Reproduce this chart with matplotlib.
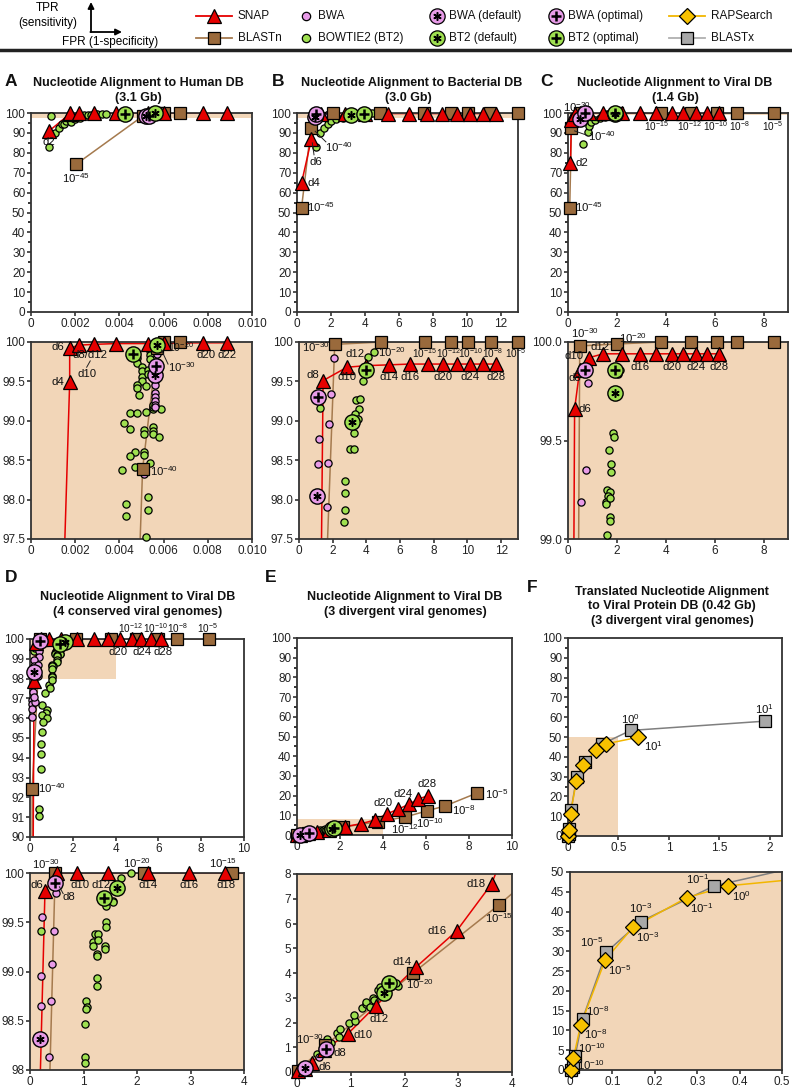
import numpy as np
import matplotlib.pyplot as plt
from matplotlib.lines import Line2D

plt.rcParams['font.family'] = ['Liberation Sans', 'DejaVu Sans']
plt.rcParams['mathtext.default'] = 'regular'

W, H = 792, 1088
RED = '#e60000'
BROWN = '#9a6a3c'
BROWN_LINE = '#a57a4e'
PINK = '#e89be8'
GREEN = '#9fe050'
GOLD = '#f8c200'
GOLD_LINE = '#f2b600'
GRAY = '#a8a8a8'
GRAY_LINE = '#7f7f7f'
TAN = '#f2d6b8'

# ---------------- data ----------------
# Panel A: human DB
A_SNAP_X = [0.0008, 0.00175, 0.00175, 0.00215, 0.00285, 0.00385, 0.0053, 0.0060, 0.0078, 0.00886]
A_SNAP_Y = [90.8, 99.49, 99.92, 99.96, 99.97, 99.98, 99.98, 99.985, 99.99, 99.99]
A_BLASTN_X = [0.00205, 0.00505, 0.0057, 0.0060, 0.00676]
A_BLASTN_Y = [74.3, 98.39, 99.93, 100.0, 100.0]
A_TOP_BT2_X = [0.00083, 0.0009, 0.0011, 0.00126, 0.0014, 0.0015, 0.0016, 0.00177, 0.0018, 0.0019,
               0.0020, 0.0021, 0.0022, 0.0023, 0.0024, 0.0026, 0.0027, 0.0029, 0.0030, 0.0032, 0.0034]
A_TOP_BT2_Y = [82.9, 98.7, 90.0, 92.4, 94.5, 94.3, 95.8, 96.6, 95.5, 97.5,
               96.8, 98.0, 97.3, 98.3, 98.8, 99.0, 99.2, 99.3, 99.4, 99.5, 99.6]
A_TOP_BT2_OPT = ([0.00424], [99.6])
A_TOP_BT2_DEF = ([0.0056], [100.0])
A_TOP_BWA_OPT = ([0.00533], [98.7])
A_TOP_BWA_DEF = ([0.0052], [98.3])
A_BOT_BT2_X = [0.0054, 0.0054, 0.0054, 0.0054, 0.0048, 0.0048, 0.0050, 0.0050, 0.0050, 0.0050,
               0.0048, 0.0048, 0.0053, 0.0053, 0.0052, 0.0049, 0.0055, 0.0055, 0.0055, 0.0059,
               0.0045, 0.0048, 0.0052, 0.0042, 0.0045, 0.0055, 0.0055, 0.0051, 0.0051, 0.0055,
               0.0058, 0.0047, 0.0051, 0.0051, 0.0045, 0.0054, 0.0047, 0.0041, 0.0053, 0.0043,
               0.0053, 0.0043, 0.0052]
A_BOT_BT2_Y = [99.92, 99.88, 99.83, 99.79, 99.8, 99.73, 99.68, 99.63, 99.55, 99.5,
               99.45, 99.41, 99.64, 99.6, 99.44, 99.33, 99.15, 99.18, 99.2, 99.15,
               99.1, 99.1, 99.11, 98.97, 98.9, 98.92, 98.87, 98.88, 98.83, 98.83,
               98.8, 98.61, 98.61, 98.57, 98.55, 98.47, 98.41, 98.37, 98.03, 97.95,
               97.87, 97.79, 97.52]
A_BOT_BWA_X = [0.0058, 0.0057, 0.0057, 0.0056, 0.0056, 0.0056, 0.0056, 0.0056, 0.0056, 0.0056, 0.0051]
A_BOT_BWA_Y = [99.93, 99.85, 99.75, 99.5, 99.45, 99.35, 99.3, 99.25, 99.2, 99.17, 98.33]
A_BOT_BWA_OPT = ([0.00565], [99.7])
A_BOT_BWA_DEF = ([0.0056], [99.58])
A_BOT_BT2_OPT = ([0.0046], [99.85])
A_BOT_BT2_DEF = ([0.0057], [99.96])

# Panel B: bacterial DB
B_SNAP_X = [0.27, 0.85, 1.43, 2.85, 4.0, 5.33, 6.57, 7.66, 8.55, 9.39, 10.18, 10.93, 11.68]
B_SNAP_Y = [65.0, 87.0, 99.51, 99.68, 99.7, 99.71, 99.72, 99.72, 99.72, 99.72, 99.72, 99.72, 99.72]
B_BLASTN_X = [0.27, 0.82, 2.12, 4.89, 7.47, 9.05, 10.04, 11.37, 13.0]
B_BLASTN_Y = [52.5, 92.4, 99.97, 100, 100, 100, 100, 100, 100]
B_BWA_X = [0.75, 2.06, 1.88, 1.76, 1.19, 1.13, 1.74, 1.64]
B_BWA_Y = [92.0, 99.8, 99.34, 98.96, 98.77, 98.45, 98.47, 97.9]
B_BWA_OPT = ([1.13], [99.3])
B_BWA_DEF = ([1.08], [98.05])
B_BT2_X = [1.1, 1.35, 1.6, 1.8, 2.0, 2.3, 4.43, 4.1, 3.8, 3.4, 3.6, 3.54, 3.35, 3.5, 3.26,
           3.0, 3.26, 2.75, 2.75, 2.75, 2.69, 1.23]
B_BT2_Y = [83.0, 90.0, 92.5, 94.5, 96.0, 97.0, 99.87, 99.81, 99.51, 99.27, 99.28, 99.15, 99.08, 99.02, 98.84,
           98.64, 98.64, 98.24, 98.08, 97.87, 97.71, 99.16]
B_BT2_OPT = ([3.96], [99.65])
B_BT2_DEF = ([3.17], [98.98])

# Panel C: viral DB
C_SNAP_X = [0.1, 0.14, 0.27, 0.48, 0.85, 1.44, 2.19, 2.94, 3.58, 4.24, 4.72, 5.23, 5.68, 6.16]
C_SNAP_Y = [75.1, 96.6, 99.66, 99.86, 99.92, 99.94, 99.94, 99.94, 99.94, 99.94, 99.94, 99.94, 99.94, 99.94]
C_BLASTN_X = [0.07, 0.14, 0.48, 2.01, 3.79, 5.02, 6.09, 6.9, 8.41]
C_BLASTN_Y = [52.2, 92.4, 99.98, 99.99, 100, 100, 100, 100, 100]
C_BWA_X = [0.82, 0.75, 0.52, 0.35]
C_BWA_Y = [99.79, 99.35, 99.19, 97.0]
C_BWA_OPT = ([0.71], [99.86])
C_BWA_DEF = ([0.48], [97.0])
C_BT2_X = [0.62, 0.8, 0.85, 0.95, 1.1, 1.3, 1.5, 1.7, 2.12, 2.05, 1.85, 1.87, 1.68, 1.74, 1.74,
           1.6, 1.71, 1.64, 1.57, 1.55, 1.71, 1.71, 1.71, 1.6]
C_BT2_Y = [84.2, 90.5, 93.5, 95.5, 96.5, 97.3, 98.0, 98.5, 99.86, 99.84, 99.54, 99.52, 99.45, 99.38, 99.34,
           99.25, 99.24, 99.22, 99.19, 99.18, 99.21, 99.11, 99.09, 99.02]
C_BT2_OPT = ([1.92], [99.86])
C_BT2_DEF = ([1.92], [99.74])

# Panel D: 4 conserved viral genomes
D_SNAP_X = [0.1, 0.19, 0.28, 0.51, 0.88, 1.45, 2.2, 2.97, 3.65, 4.2, 4.75, 5.2, 5.65, 6.1]
D_SNAP_Y = [80.0, 97.9, 99.82, 100, 100, 100, 100, 100, 100, 100, 100, 100, 100, 100]
D_BLASTN_X = [0.08, 0.1, 0.47, 2.13, 3.78, 4.95, 6.0, 6.85, 8.35]
D_BLASTN_Y = [75.0, 92.4, 100, 100, 100, 100, 100, 100, 100]
D_BWA_X = [0.49, 0.22, 0.44, 0.42, 0.21, 0.21, 0.39, 0.36,
           0.16, 0.12, 0.11, 0.11, 0.11, 0.11, 0.23, 0.2]
D_BWA_Y = [99.8, 99.55, 99.41, 99.08, 98.95, 98.65, 98.7, 98.13,
           97.7, 97.3, 96.9, 96.7, 96.46, 96.04, 96.8, 97.05]
D_BWA_OPT = ([0.47], [99.9])
D_BWA_DEF = ([0.19], [98.31])
D_BT2_X = [0.2, 1.88, 1.71, 1.56, 1.55, 1.42, 1.42, 1.42, 1.21, 1.28, 1.18, 1.28, 1.18, 1.4, 1.4,
           1.26, 1.26, 1.26, 1.26, 1.04, 1.06, 1.05, 1.03, 1.02, 1.02,
           0.7, 0.58, 0.78, 0.75, 0.58, 0.78, 0.62, 0.58, 0.51, 0.51, 0.51, 0.42, 0.42, 0.9, 1.01, 0.93]
D_BT2_Y = [99.41, 100.0, 99.95, 99.72, 99.71, 99.66, 99.5, 99.45, 99.38, 99.38, 99.3, 99.32, 99.26, 99.26, 99.23,
           99.18, 99.16, 98.93, 98.85, 98.7, 98.64, 98.62, 98.47, 98.13, 98.07,
           97.25, 96.66, 96.4, 96.24, 96.15, 95.99, 95.82, 95.31, 94.72, 94.2, 93.41, 91.43, 91.05, 97.67, 97.93, 97.55]
D_BT2_OPT = ([1.39], [99.75])
D_BT2_DEF = ([1.62], [99.85])

# Panel E: 3 divergent viral genomes
E_SNAP_X = [0.02, 0.15, 0.28, 0.5, 0.94, 1.47, 2.21, 2.97, 3.62, 4.2, 4.71, 5.2, 5.64, 6.07]
E_SNAP_Y = [0.03, 0.12, 0.38, 0.9, 1.53, 2.68, 4.23, 5.7, 7.6, 10.8, 13.1, 15.6, 18.2, 19.9]
E_BLASTN_X = [0.01, 0.53, 2.16, 3.76, 5.02, 6.06, 6.9, 8.35]
E_BLASTN_Y = [0.04, 1.08, 4.0, 6.76, 9.1, 12.3, 14.8, 21.2]
E_BWA_X = [0.4, 0.1]
E_BWA_Y = [0.6, 0.12]
E_BWA_OPT = ([0.54], [0.92])
E_BWA_DEF = ([0.14], [0.16])
E_BT2_X = [0.37, 0.56, 0.64, 0.74, 0.8, 0.78, 0.96, 1.07, 1.06, 1.2, 1.28, 1.28, 1.36, 1.42, 1.44,
           1.51, 1.54, 1.77, 1.88, 1.85]
E_BT2_Y = [0.74, 1.32, 1.18, 1.59, 1.75, 1.42, 2.0, 2.07, 2.32, 2.57, 2.73, 2.84, 2.64, 3.0, 2.9,
           3.31, 3.45, 3.47, 3.47, 3.58]
E_BT2_OPT = ([1.72], [3.58])
E_BT2_DEF = ([1.62], [3.18])

# Panel F: translated alignment
F_BLASTX_X = [0.002, 0.006, 0.012, 0.03, 0.086, 0.167, 0.34, 0.62, 1.95]
F_BLASTX_Y = [0.0, 0.8, 3.5, 13.0, 29.8, 37.5, 46.5, 53.3, 58.0]
F_RAP_X = [0.002, 0.008, 0.025, 0.083, 0.148, 0.275, 0.372, 0.69]
F_RAP_Y = [0.0, 3.0, 11.3, 27.8, 36.0, 43.5, 46.5, 49.8]

# zoomed (bottom) panel limits, also the shaded area in the top panels
ZOOM = {
    'A': ((0, 0.010), (97.5, 100)),
    'B': ((0, 13), (97.5, 100)),
    'C': ((0, 9), (99.0, 100.0)),
    'D': ((0, 4), (98, 100)),
    'E': ((0, 4), (0, 8)),
    'F': ((0, 0.5), (0, 50)),
}

fig = plt.figure(figsize=(W / 100, H / 100), dpi=100)


def make_ax(l, t, r, b):
    return fig.add_axes([l / W, 1 - b / H, (r - l) / W, (b - t) / H])


def setup(ax, xlim, ylim, xt, xl, yt, yl, yminor=None, bg=None):
    ax.set_xlim(xlim)
    ax.set_ylim(ylim)
    ax.set_xticks(xt)
    ax.set_xticklabels(xl)
    ax.set_yticks(yt)
    ax.set_yticklabels(yl)
    if yminor is not None:
        ax.set_yticks(yminor, minor=True)
    ax.tick_params(direction='out', length=3, width=1.1, labelsize=8.5, pad=1.2, colors='#222')
    ax.tick_params(which='minor', length=2, width=1.1)
    for s in ax.spines.values():
        s.set_linewidth(1.3)
        s.set_color('#333')
    if bg:
        ax.set_facecolor(bg)


def pts(ax, x, y, marker, ms, fc, z, line=None, lw=1.1, mew=0.9):
    x = np.asarray(x, float)
    y = np.asarray(y, float)
    if line:
        ax.plot(x, y, color=line, lw=lw, zorder=2, solid_capstyle='butt')
    x0, x1 = ax.get_xlim()
    y0, y1 = ax.get_ylim()
    tx, ty = (x1 - x0) * 0.004, (y1 - y0) * 0.004
    m = (x >= x0 - tx) & (x <= x1 + tx) & (y >= y0 - ty) & (y <= y1 + ty)
    ax.plot(x[m], y[m], ls='none', marker=marker, ms=ms, mfc=fc, mec='k', mew=mew,
            zorder=z, clip_on=False)
    return m


def big(ax, xy, fc, sym):
    m = pts(ax, xy[0], xy[1], 'o', 11, fc, 7, mew=1.0)
    x = np.asarray(xy[0])[m]
    y = np.asarray(xy[1])[m]
    if sym == '+':
        ax.plot(x, y, ls='none', marker='+', ms=7, mew=1.8, color='k', zorder=8, clip_on=False)
    else:
        ax.plot(x, y, ls='none', marker=(6, 2, 0), ms=6, mew=1.1, color='k', zorder=8, clip_on=False)


def nuc(ax, snap, blastn, bwa=None, bt2=None, bwa_opt=None, bwa_def=None, bt2_opt=None, bt2_def=None):
    pts(ax, blastn[0], blastn[1], 's', 8.5, BROWN, 4, line=BROWN_LINE)
    pts(ax, snap[0], snap[1], '^', 9.5, RED, 5, line=RED)
    if bt2 is not None:
        pts(ax, bt2[0], bt2[1], 'o', 5.2, GREEN, 3)
    if bwa is not None:
        pts(ax, bwa[0], bwa[1], 'o', 5.2, PINK, 3.5)
    if bwa_def is not None:
        big(ax, bwa_def, PINK, '*')
    if bwa_opt is not None:
        big(ax, bwa_opt, PINK, '+')
    if bt2_def is not None:
        big(ax, bt2_def, GREEN, '*')
    if bt2_opt is not None:
        big(ax, bt2_opt, GREEN, '+')


def shade(ax, key):
    (x0, x1), (y0, y1) = ZOOM[key]
    ax.fill_between([x0, x1], y0, y1, color=TAN, lw=0, zorder=0)


def lab(ax, x, y, s, ha='center', va='center', size=8.2):
    ax.text(x, y, s, ha=ha, va=va, fontsize=size, color='#111', zorder=9, clip_on=False)


def lead(ax, p0, p1):
    ax.plot([p0[0], p1[0]], [p0[1], p1[1]], color='#222', lw=0.7, zorder=9, clip_on=False)


def ftext(x, y, s, **kw):
    fig.text(x / W, 1 - y / H, s, **kw)


Y100 = list(range(0, 101, 10))
Y100L = [str(v) for v in Y100]
Y100M = list(range(5, 100, 10))
YZ = [97.5, 98.0, 98.5, 99.0, 99.5, 100]
YZL = ['97.5', '98.0', '98.5', '99.0', '99.5', '100']

# ---------------- Panel A ----------------
ax = make_ax(31, 113, 252, 312)
XA = [0, 0.002, 0.004, 0.006, 0.008, 0.010]
XAL = ['0', '0.002', '0.004', '0.006', '0.008', '0.010']
setup(ax, (0, 0.010), (0, 100), XA, XAL, Y100, Y100L, Y100M)
shade(ax, 'A')
nuc(ax, (A_SNAP_X, A_SNAP_Y), (A_BLASTN_X, A_BLASTN_Y), bt2=(A_TOP_BT2_X, A_TOP_BT2_Y),
    bwa_opt=A_TOP_BWA_OPT, bwa_def=A_TOP_BWA_DEF, bt2_opt=A_TOP_BT2_OPT, bt2_def=A_TOP_BT2_DEF)
lab(ax, 0.0008, 85.5, 'd2')
lab(ax, 0.00205, 67.5, r'$10^{-45}$')

ax = make_ax(31, 342, 252, 539)
setup(ax, ZOOM['A'][0], ZOOM['A'][1], XA, XAL, YZ, YZL, bg=TAN)
nuc(ax, (A_SNAP_X, A_SNAP_Y), (A_BLASTN_X, A_BLASTN_Y), bwa=(A_BOT_BWA_X, A_BOT_BWA_Y),
    bt2=(A_BOT_BT2_X, A_BOT_BT2_Y), bwa_opt=A_BOT_BWA_OPT, bwa_def=A_BOT_BWA_DEF,
    bt2_opt=A_BOT_BT2_OPT, bt2_def=A_BOT_BT2_DEF)
lab(ax, 0.0015, 99.49, 'd4', ha='right')
lab(ax, 0.0015, 99.94, 'd6', ha='right')
lab(ax, 0.0019, 99.83, 'd8/d12', ha='left')
lab(ax, 0.0021, 99.6, 'd10', ha='left')
lead(ax, (0.00268, 99.76), (0.00252, 99.68))
lab(ax, 0.0054, 98.36, r'$10^{-40}$', ha='left')
lab(ax, 0.00622, 99.93, r'$10^{-20}$', ha='left', size=7.6)
lab(ax, 0.0062, 99.68, r'$10^{-30}$', ha='left')
lead(ax, (0.0062, 99.72), (0.0059, 99.9))
lab(ax, 0.0079, 99.84, 'd20')
lab(ax, 0.00886, 99.84, 'd22')

# ---------------- Panel B ----------------
XB = list(range(0, 13, 2))
XBL = [str(v) for v in XB]
B_ALL = dict(snap=(B_SNAP_X, B_SNAP_Y), blastn=(B_BLASTN_X, B_BLASTN_Y), bwa=(B_BWA_X, B_BWA_Y),
             bt2=(B_BT2_X, B_BT2_Y), bwa_opt=B_BWA_OPT, bwa_def=B_BWA_DEF, bt2_opt=B_BT2_OPT,
             bt2_def=B_BT2_DEF)
ax = make_ax(297, 113, 518, 312)
setup(ax, (0, 13), (0, 100), XB, XBL, Y100, Y100L, Y100M)
shade(ax, 'B')
nuc(ax, **B_ALL)
lab(ax, 0.6, 64.7, 'd4', ha='left')
lab(ax, 1.1, 75.5, 'd6')
lead(ax, (0.9, 85.0), (1.0, 79.0))
lab(ax, 1.65, 82.9, r'$10^{-40}$', ha='left')
lead(ax, (1.07, 90.8), (1.7, 85.5))
lab(ax, 0.6, 52.9, r'$10^{-45}$', ha='left')

ax = make_ax(299, 342, 518, 539)
setup(ax, ZOOM['B'][0], ZOOM['B'][1], XB, XBL, YZ, YZL, bg=TAN)
nuc(ax, **B_ALL)
lab(ax, 1.85, 99.93, r'$10^{-30}$', ha='right')
lab(ax, 1.2, 99.58, 'd8', ha='right')
lab(ax, 2.85, 99.55, 'd10')
lab(ax, 3.3, 99.85, 'd12')
lab(ax, 5.5, 99.87, r'$10^{-20}$')
for xv, s in zip([5.33, 6.57, 8.55, 10.18, 11.68], ['d14', 'd16', 'd20', 'd24', 'd28']):
    lab(ax, xv, 99.56, s)
for xv, s in zip([7.45, 8.85, 10.2, 11.5, 12.85], [r'$10^{-15}$', r'$10^{-12}$', r'$10^{-10}$',
                                                  r'$10^{-8}$', r'$10^{-5}$']):
    lab(ax, xv, 99.86, s, size=7.2)

# ---------------- Panel C ----------------
XC = list(range(0, 9, 2))
XCL = [str(v) for v in XC]
C_ALL = dict(snap=(C_SNAP_X, C_SNAP_Y), blastn=(C_BLASTN_X, C_BLASTN_Y), bwa=(C_BWA_X, C_BWA_Y),
             bt2=(C_BT2_X, C_BT2_Y), bwa_opt=C_BWA_OPT, bwa_def=C_BWA_DEF, bt2_opt=C_BT2_OPT,
             bt2_def=C_BT2_DEF)
ax = make_ax(568, 113, 788, 312)
setup(ax, (0, 9), (0, 100), XC, XCL, Y100, Y100L, Y100M)
shade(ax, 'C')
nuc(ax, **C_ALL)
lab(ax, 0.35, 103, r'$10^{-30}$')
lab(ax, 0.3, 75, 'd2', ha='left')
lab(ax, 0.82, 88.5, r'$10^{-40}$', ha='left')
lead(ax, (0.27, 91.0), (0.78, 88.8))
lab(ax, 0.3, 52.5, r'$10^{-45}$', ha='left')
for xv, s in zip([3.6, 4.95, 6.02, 7.0, 8.35], [r'$10^{-15}$', r'$10^{-12}$', r'$10^{-10}$',
                                               r'$10^{-8}$', r'$10^{-5}$']):
    lab(ax, xv, 93.5, s, size=7.2)

ax = make_ax(568, 342, 788, 539)
setup(ax, ZOOM['C'][0], ZOOM['C'][1], XC, XCL, [99.0, 99.5, 100.0], ['99.0', '99.5', '100.0'], bg=TAN)
nuc(ax, **C_ALL)
lab(ax, 0.68, 100.045, r'$10^{-30}$')
lab(ax, 2.65, 100.02, r'$10^{-20}$')
lab(ax, 1.3, 99.975, 'd12')
lab(ax, 0.62, 99.93, 'd10', ha='right')
lab(ax, 0.3, 99.815, 'd8')
lab(ax, 0.42, 99.66, 'd6', ha='left')
for xv, s in zip([2.94, 4.24, 5.23, 6.16], ['d16', 'd20', 'd24', 'd28']):
    lab(ax, xv, 99.875, s)

# ---------------- Panel D ----------------
D_ALL = dict(snap=(D_SNAP_X, D_SNAP_Y), blastn=(D_BLASTN_X, D_BLASTN_Y), bwa=(D_BWA_X, D_BWA_Y),
             bt2=(D_BT2_X, D_BT2_Y), bwa_opt=D_BWA_OPT, bwa_def=D_BWA_DEF, bt2_opt=D_BT2_OPT,
             bt2_def=D_BT2_DEF)
ax = make_ax(30, 639, 244, 837)
XD = list(range(0, 11, 2))
setup(ax, (0, 10), (90, 100), XD, [str(v) for v in XD], list(range(90, 101)),
      [str(v) for v in range(90, 101)])
shade(ax, 'D')
nuc(ax, **D_ALL)
for xv, s in zip([4.7, 5.85, 6.9, 8.3], [r'$10^{-12}$', r'$10^{-10}$', r'$10^{-8}$', r'$10^{-5}$']):
    lab(ax, xv, 100.55, s, size=7.2)
for xv, s in zip([4.13, 5.22, 6.23], ['d20', 'd24', 'd28']):
    lab(ax, xv, 99.36, s)
lab(ax, 0.39, 92.45, r'$10^{-40}$', ha='left')

ax = make_ax(30, 873, 244, 1070)
setup(ax, ZOOM['D'][0], ZOOM['D'][1], [0, 1, 2, 3, 4], ['0', '1', '2', '3', '4'],
      [98, 98.5, 99.0, 99.5, 100], ['98', '98.5', '99.0', '99.5', '100'], bg=TAN)
nuc(ax, **D_ALL)
lab(ax, 0.3, 100.09, r'$10^{-30}$')
lab(ax, 2.0, 100.1, r'$10^{-20}$')
lab(ax, 3.6, 100.1, r'$10^{-15}$')
lab(ax, 0.25, 99.88, 'd6', ha='right')
lab(ax, 0.72, 99.76, 'd8')
lead(ax, (0.55, 99.86), (0.62, 99.79))
for xv, s in zip([0.93, 1.33, 2.2, 2.97, 3.66], ['d10', 'd12', 'd14', 'd16', 'd18']):
    lab(ax, xv, 99.88, s)

# ---------------- Panel E ----------------
E_ALL = dict(snap=(E_SNAP_X, E_SNAP_Y), blastn=(E_BLASTN_X, E_BLASTN_Y), bwa=(E_BWA_X, E_BWA_Y),
             bt2=(E_BT2_X, E_BT2_Y), bwa_opt=E_BWA_OPT, bwa_def=E_BWA_DEF, bt2_opt=E_BT2_OPT,
             bt2_def=E_BT2_DEF)
ax = make_ax(297, 638, 512, 835)
setup(ax, (0, 10), (0, 100), XD, [str(v) for v in XD], Y100, Y100L, Y100M)
shade(ax, 'E')
nuc(ax, **E_ALL)
lab(ax, 4.02, 16.2, 'd20')
lab(ax, 4.95, 20.7, 'd24')
lab(ax, 6.03, 25.8, 'd28')
lab(ax, 5.0, 3.0, r'$10^{-12}$')
lab(ax, 6.2, 6.1, r'$10^{-10}$')
lab(ax, 7.2, 12.8, r'$10^{-8}$', ha='left')
lab(ax, 8.75, 20.9, r'$10^{-5}$', ha='left')

ax = make_ax(297, 874, 512, 1072)
setup(ax, ZOOM['E'][0], ZOOM['E'][1], [0, 1, 2, 3, 4], ['0', '1', '2', '3', '4'],
      list(range(0, 9)), [str(v) for v in range(0, 9)], bg=TAN)
nuc(ax, **E_ALL)
lab(ax, 0.25, 1.32, r'$10^{-30}$')
lab(ax, 0.68, 0.78, 'd8', ha='left')
lab(ax, 0.4, 0.22, 'd6', ha='left')
lab(ax, 1.06, 1.49, 'd10', ha='left')
lab(ax, 1.52, 2.16, 'd12')
lab(ax, 1.96, 4.46, 'd14')
lab(ax, 2.29, 3.57, r'$10^{-20}$')
lab(ax, 2.6, 5.7, 'd16')
lab(ax, 3.75, 6.2, r'$10^{-15}$')
lab(ax, 3.33, 7.6, 'd18')

# ---------------- Panel F ----------------


def trans(ax):
    pts(ax, F_BLASTX_X, F_BLASTX_Y, 's', 9, GRAY, 4, line=GRAY_LINE)
    pts(ax, F_RAP_X, F_RAP_Y, 'D', 8, GOLD, 5, line=GOLD_LINE)


ax = make_ax(568, 638, 782, 836)
setup(ax, (0, 2.12), (0, 100), [0, 0.5, 1, 1.5, 2], ['0', '0.5', '1', '1.5', '2'], Y100, Y100L, Y100M)
shade(ax, 'F')
trans(ax)
lab(ax, 0.62, 59, r'$10^{0}$')
lab(ax, 1.95, 64, r'$10^{1}$')
lab(ax, 0.75, 45.5, r'$10^{1}$', ha='left')

ax = make_ax(570, 872, 782, 1070)
XF = [0, 0.1, 0.2, 0.3, 0.4, 0.5]
setup(ax, ZOOM['F'][0], ZOOM['F'][1], XF, ['0', '0.1', '0.2', '0.3', '0.4', '0.5'],
      list(range(0, 51, 5)), [str(v) for v in range(0, 51, 5)], bg=TAN)
trans(ax)
for xv, yv, s, ha in [(0.018, 5.5, r'$10^{-10}$', 'left'), (0.038, 14.8, r'$10^{-8}$', 'left'),
                      (0.08, 32.2, r'$10^{-5}$', 'right'), (0.167, 40.8, r'$10^{-3}$', 'center'),
                      (0.33, 48.3, r'$10^{-1}$', 'right')]:
    lab(ax, xv, yv, s, ha=ha)
for xv, yv, s in [(0.016, 1.2, r'$10^{-10}$'), (0.032, 9.0, r'$10^{-8}$'), (0.09, 25.3, r'$10^{-5}$'),
                  (0.155, 33.5, r'$10^{-3}$'), (0.282, 41.0, r'$10^{-1}$'), (0.382, 44.0, r'$10^{0}$')]:
    lab(ax, xv, yv, s, ha='left')

# ---------------- titles ----------------
tkw = dict(ha='center', va='center', fontsize=9, fontweight='bold', color='#111')
lkw = dict(ha='left', va='center', fontsize=12.5, fontweight='bold', color='#111')
ftext(5, 82, 'A', **lkw)
ftext(138, 83, 'Nucleotide Alignment to Human DB', **tkw)
ftext(138, 98, '(3.1 Gb)', **tkw)
ftext(272, 82, 'B', **lkw)
ftext(412, 83, 'Nucleotide Alignment to Bacterial DB', **tkw)
ftext(408, 98, '(3.0 Gb)', **tkw)
ftext(540, 82, 'C', **lkw)
ftext(675, 83, 'Nucleotide Alignment to Viral DB', **tkw)
ftext(675, 98, '(1.4 Gb)', **tkw)
ftext(5, 577, 'D', **lkw)
ftext(138, 597, 'Nucleotide Alignment to Viral DB', **tkw)
ftext(138, 612, '(4 conserved viral genomes)', **tkw)
ftext(265, 577, 'E', **lkw)
ftext(405, 597, 'Nucleotide Alignment to Viral DB', **tkw)
ftext(405, 612, '(3 divergent viral genomes)', **tkw)
ftext(527, 587, 'F', **lkw)
ftext(672, 592, 'Translated Nucleotide Alignment', **tkw)
ftext(672, 606, 'to Viral Protein DB (0.42 Gb)', **tkw)
ftext(672, 621, '(3 divergent viral genomes)', **tkw)

# ---------------- legend strip ----------------
lg = fig.add_axes([0, 1 - 50 / H, 1, 50 / H])
lg.set_xlim(0, W)
lg.set_ylim(50, 0)
lg.axis('off')
lkw2 = dict(ha='left', va='center', fontsize=8.5, color='#111')
lg.text(48, 8, 'TPR', ha='center', va='center', fontsize=8.5)
lg.text(48, 23, '(sensitivity)', ha='center', va='center', fontsize=8.5)
lg.text(110, 42, 'FPR (1-specificity)', ha='center', va='center', fontsize=8.5)
lg.annotate('', xy=(91, 2), xytext=(91, 32), arrowprops=dict(arrowstyle='-|>', color='k', lw=1.3,
                                                             mutation_scale=9, shrinkA=0, shrinkB=0))
lg.annotate('', xy=(122, 32), xytext=(90.4, 32), arrowprops=dict(arrowstyle='-|>', color='k', lw=1.3,
                                                                 mutation_scale=9, shrinkA=0, shrinkB=0))

LEG = [
    (214, 16, '^', 9.5, RED, RED, None, 'SNAP'),
    (214, 38, 's', 8.5, BROWN, BROWN_LINE, None, 'BLASTn'),
    (306, 16, 'o', 6, PINK, None, None, 'BWA'),
    (306, 38, 'o', 6, GREEN, None, None, 'BOWTIE2 (BT2)'),
    (437, 16, 'o', 11, PINK, None, '*', 'BWA (default)'),
    (437, 38, 'o', 11, GREEN, None, '*', 'BT2 (default)'),
    (556, 16, 'o', 11, PINK, None, '+', 'BWA (optimal)'),
    (556, 38, 'o', 11, GREEN, None, '+', 'BT2 (optimal)'),
    (687, 16, 'D', 8, GOLD, GOLD_LINE, None, 'RAPSearch'),
    (687, 38, 's', 9, GRAY, '#b0b0b0', None, 'BLASTx'),
]
for x, y, mk, ms, fc, lc, sym, name in LEG:
    if lc:
        lg.plot([x - 18, x + 18], [y, y], color=lc, lw=1.3, zorder=1)
    lg.plot([x], [y], marker=mk, ms=ms, mfc=fc, mec='k', mew=0.9, ls='none', zorder=2, clip_on=False)
    if sym == '+':
        lg.plot([x], [y], marker='+', ms=7, mew=1.8, color='k', zorder=3)
    elif sym == '*':
        lg.plot([x], [y], marker=(6, 2, 0), ms=6, mew=1.1, color='k', zorder=3)
    tx = x + (24 if lc else 12)
    lg.text(tx, y, name, **lkw2)

fig.add_artist(Line2D([0, 1], [1 - 50 / H, 1 - 50 / H], transform=fig.transFigure, color='#222', lw=2.5))

fig.savefig('out.png', dpi=100)
